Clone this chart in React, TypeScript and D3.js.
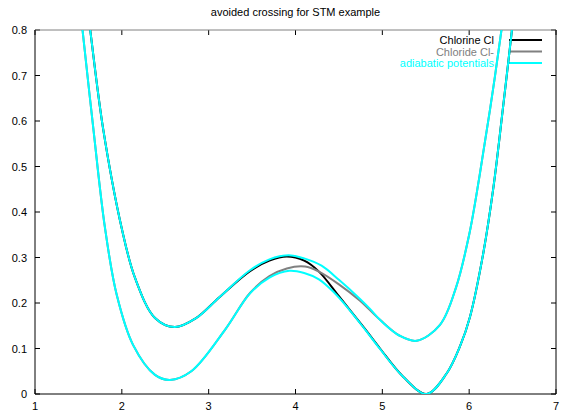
import { useMemo } from "react";
import { scaleLinear, line, curveCatmullRom } from "d3";

const width = 565;
const height = 416;
const margin = { top: 30, right: 9, bottom: 22, left: 35 };

const title = "avoided crossing for STM example";
const xTicks = [1, 2, 3, 4, 5, 6, 7];
const yTicks = [0, 0.1, 0.2, 0.3, 0.4, 0.5, 0.6, 0.7, 0.8];

// diabatic curves as [x, energy]
const chlorine: [number, number][] = [
  [1.6, 0.85], [1.633, 0.804], [1.783, 0.585], [1.998, 0.365], [2.152, 0.255],
  [2.382, 0.167], [2.61, 0.147], [2.85, 0.166], [3.12, 0.212], [3.476, 0.27],
  [3.7, 0.293], [3.9, 0.302], [4.1, 0.293], [4.27, 0.269], [4.5, 0.215],
  [4.8, 0.143], [4.973, 0.1], [5.24, 0.038], [5.51, 0.0], [5.74, 0.045],
  [5.895, 0.105], [6.01, 0.17], [6.163, 0.31], [6.28, 0.455], [6.39, 0.63],
  [6.495, 0.804], [6.525, 0.86],
];
const chloride: [number, number][] = [
  [1.52, 0.85], [1.545, 0.804], [1.671, 0.585], [1.806, 0.365], [1.941, 0.218],
  [2.129, 0.108], [2.382, 0.042], [2.555, 0.031], [2.8, 0.05], [3.188, 0.141],
  [3.476, 0.222], [3.7, 0.259], [3.9, 0.276], [4.11, 0.28], [4.27, 0.269],
  [4.5, 0.241], [4.743, 0.205], [4.973, 0.163], [5.2, 0.128], [5.396, 0.117],
  [5.664, 0.152], [5.85, 0.235], [6.0, 0.35], [6.12, 0.48], [6.24, 0.625],
  [6.375, 0.804], [6.41, 0.86],
];
// adiabatic potentials
const upperAdiabatic: [number, number][] = [
  [1.6, 0.85], [1.633, 0.804], [1.783, 0.585], [1.998, 0.365], [2.152, 0.255],
  [2.382, 0.167], [2.61, 0.147], [2.85, 0.166], [3.12, 0.212], [3.476, 0.272],
  [3.7, 0.296], [3.92, 0.305], [4.1, 0.298], [4.3, 0.282], [4.5, 0.251],
  [4.743, 0.209], [4.858, 0.187], [4.973, 0.163], [5.2, 0.128], [5.396, 0.117],
  [5.664, 0.152], [5.85, 0.235], [6.0, 0.35], [6.12, 0.48], [6.24, 0.625],
  [6.375, 0.804], [6.41, 0.86],
];
const lowerAdiabatic: [number, number][] = [
  [1.52, 0.85], [1.545, 0.804], [1.671, 0.585], [1.806, 0.365], [1.941, 0.218],
  [2.129, 0.108], [2.382, 0.042], [2.555, 0.031], [2.8, 0.05], [3.188, 0.141],
  [3.476, 0.221], [3.7, 0.256], [3.93, 0.271], [4.1, 0.266], [4.27, 0.252],
  [4.45, 0.222], [4.6, 0.19], [4.8, 0.142], [4.973, 0.099], [5.24, 0.038],
  [5.51, 0.0], [5.74, 0.045], [5.895, 0.105], [6.01, 0.17], [6.163, 0.31],
  [6.28, 0.455], [6.39, 0.63], [6.495, 0.804], [6.525, 0.86],
];

const legend = [
  { label: "Chlorine Cl", color: "#000000" },
  { label: "Chloride Cl-", color: "#808080" },
  { label: "adiabatic potentials", color: "#00ffff" },
];

const font = "'Liberation Sans', Arial, Helvetica, sans-serif";

export default function App() {
  const innerWidth = width - margin.left - margin.right;
  const innerHeight = height - margin.top - margin.bottom;

  const xScale = useMemo(
    () => scaleLinear().domain([1, 7]).range([0, innerWidth]),
    [innerWidth]
  );
  const yScale = useMemo(
    () => scaleLinear().domain([0, 0.8]).range([innerHeight, 0]),
    [innerHeight]
  );
  const path = line<[number, number]>()
    .x((d) => xScale(d[0]))
    .y((d) => yScale(d[1]))
    .curve(curveCatmullRom.alpha(0.5));

  const series = [
    { data: chlorine, color: "#000000" },
    { data: chloride, color: "#808080" },
    { data: upperAdiabatic, color: "#00ffff" },
    { data: lowerAdiabatic, color: "#00ffff" },
  ];

  return (
    <svg
      width={width}
      height={height}
      style={{ position: "fixed", left: 0, top: 0, background: "#fff" }}
      fontFamily={font}
      fontSize={11}
    >
      <text x={margin.left + innerWidth / 2} y={16} textAnchor="middle" fill="#000">
        {title}
      </text>
      <defs>
        <clipPath id="plot">
          <rect x={0} y={0} width={innerWidth} height={innerHeight} />
        </clipPath>
      </defs>
      <g transform={`translate(${margin.left},${margin.top})`}>
        {xTicks.map((t) => (
          <g key={"x" + t}>
            <line x1={xScale(t)} x2={xScale(t)} y1={innerHeight} y2={innerHeight - 5} stroke="#000" />
            <line x1={xScale(t)} x2={xScale(t)} y1={0} y2={5} stroke="#000" />
            <text x={xScale(t)} y={innerHeight + 16} textAnchor="middle" fill="#000">
              {t}
            </text>
          </g>
        ))}
        {yTicks.map((t) => (
          <g key={"y" + t}>
            <line x1={0} x2={5} y1={yScale(t)} y2={yScale(t)} stroke="#000" />
            <line x1={innerWidth} x2={innerWidth - 5} y1={yScale(t)} y2={yScale(t)} stroke="#000" />
            <text x={-8} y={yScale(t) + 4} textAnchor="end" fill="#000">
              {t === 0 ? "0" : t.toFixed(1)}
            </text>
          </g>
        ))}
        <line x1={0} x2={innerWidth} y1={0} y2={0} stroke="#808080" />
        <line x1={0} x2={0} y1={0} y2={innerHeight} stroke="#000" />
        <line x1={innerWidth} x2={innerWidth} y1={0} y2={innerHeight} stroke="#000" />
        <line x1={0} x2={innerWidth} y1={innerHeight} y2={innerHeight} stroke="#000" />

        {legend.map((l, i) => (
          <g key={l.label} transform={`translate(0,${10 + i * 11.5})`}>
            <text x={459} y={4} textAnchor="end" fill={l.color}>
              {l.label}
            </text>
            <line x1={474} x2={507} y1={0} y2={0} stroke={l.color} strokeWidth={2} />
          </g>
        ))}

        <g clipPath="url(#plot)">
          {series.map((s, i) => (
            <path key={i} d={path(s.data) ?? ""} fill="none" stroke={s.color} strokeWidth={2} />
          ))}
        </g>
      </g>
    </svg>
  );
}
